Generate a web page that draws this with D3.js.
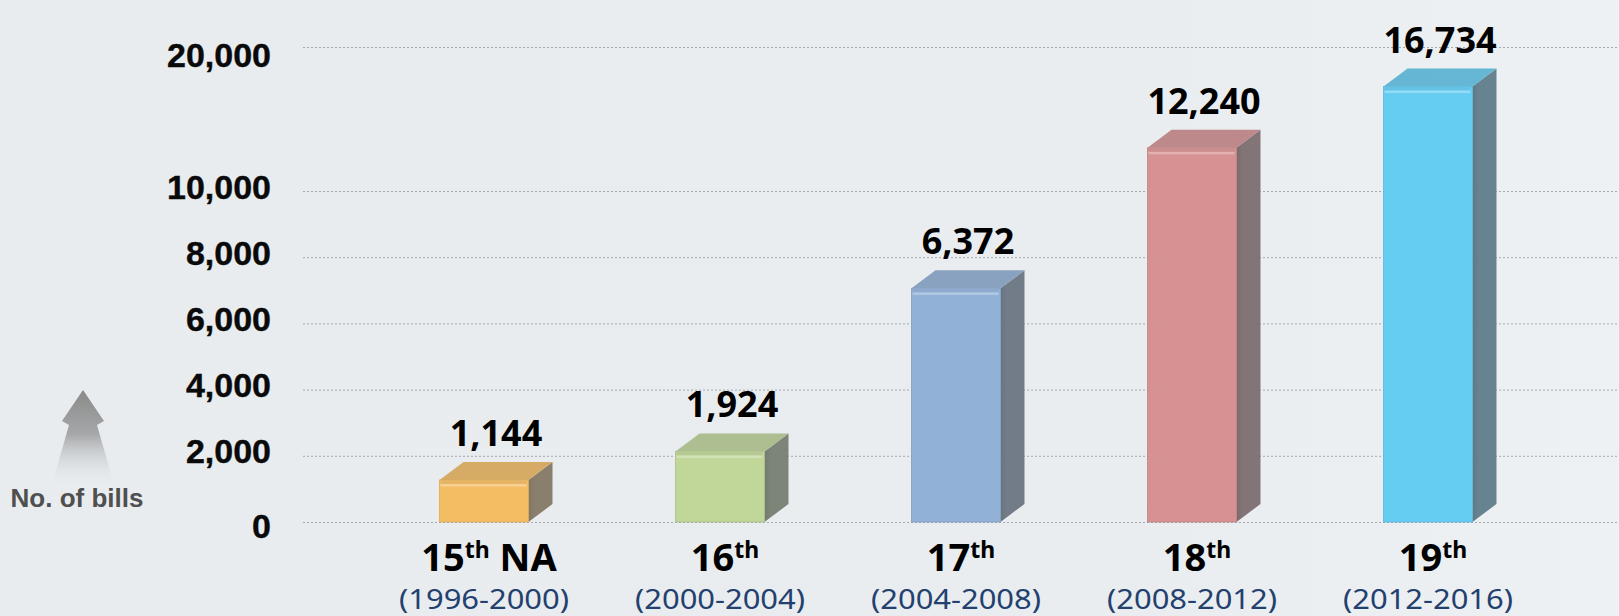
<!DOCTYPE html>
<html><head><meta charset="utf-8">
<script src="https://cdn.jsdelivr.net/npm/d3@7"></script>
<style>html,body{margin:0;padding:0;background:#e9edf0;overflow:hidden}</style>
</head><body><svg id="chart" width="1619" height="616"></svg>
<script>
// ---- data ----
const categories = ["15th NA", "16th", "17th", "18th", "19th"];
const periods = ["(1996-2000)", "(2000-2004)", "(2004-2008)", "(2008-2012)", "(2012-2016)"];
const values = [1144, 1924, 6372, 12240, 16734];
const yTicks = [0, 2000, 4000, 6000, 8000, 10000, 20000];
const barColors = ["#f5bb5c", "#bfd595", "#8eaed6", "#d68d8d", "#5ecbf3"];
const axisTitle = "No. of bills";

// ---- layout ----
const W = 1619, H = 616;
const DX = 24, DY = 18;           // 3D depth offset
const gridLeft = 303;
const svg = d3.select("#chart");
const defs = svg.append("defs");

// background
const bg = defs.append("linearGradient").attr("id", "bg").attr("x1", 0).attr("x2", 1).attr("y1", 0).attr("y2", 0);
bg.append("stop").attr("offset", "0%").attr("stop-color", "#e8ecef");
bg.append("stop").attr("offset", "70%").attr("stop-color", "#e9edf0");
bg.append("stop").attr("offset", "100%").attr("stop-color", "#eef1f3");
svg.append("rect").attr("width", W).attr("height", H).attr("fill", "url(#bg)");

// scales
const x = d3.scaleBand().domain(categories).range([366, 1546])
  .paddingInner(0.623).paddingOuter(0.3115).align(0.5);
const bw = x.bandwidth();
const yAxis = d3.scaleLinear().domain([0, 10000, 20000]).range([522, 191, 47]);   // gridlines
const yLabel = d3.scaleLinear().domain([0, 2000, 10000, 20000]).range([537, 462, 198, 66]); // tick label baselines
const yBar = d3.scaleLinear().domain([0, 9000, 20000]).range([522, 192, 42]);     // bar tops

// gridlines
const grid = svg.append("g").attr("transform", `translate(${gridLeft},0)`)
  .call(d3.axisRight(yAxis).tickValues(yTicks).tickSize(W - gridLeft).tickFormat(""));
grid.select(".domain").remove();
grid.selectAll(".tick line").attr("stroke", "#a7abaf").attr("stroke-width", 1).attr("stroke-dasharray", "2,2");

// tick labels
const yl = svg.append("g").attr("transform", "translate(271,0)")
  .call(d3.axisLeft(yLabel).tickValues(yTicks).tickFormat(d3.format(",")).tickSize(0).tickPadding(0));
yl.select(".domain").remove();
yl.selectAll(".tick line").remove();
yl.attr("font-family", "'Liberation Sans', Arial, sans-serif").attr("font-size", 34).attr("font-weight", "bold");
yl.selectAll(".tick text").attr("dy", "0").attr("fill", "#0a0a0a")
  .attr("stroke", "#0a0a0a").attr("stroke-width", 0.4);

// axis title arrow
const ag = defs.append("linearGradient").attr("id", "arrowGrad").attr("x1", 0).attr("x2", 0).attr("y1", 0).attr("y2", 1);
ag.append("stop").attr("offset", "0%").attr("stop-color", "#8a8a8a");
ag.append("stop").attr("offset", "45%").attr("stop-color", "#a6a7a9");
ag.append("stop").attr("offset", "100%").attr("stop-color", "#e9edf0").attr("stop-opacity", 0);
svg.append("path")
  .attr("d", "M83,390 L104,421 L97,425 L115,488 L51,488 L69,425 L62,421 Z")
  .attr("fill", "url(#arrowGrad)");
svg.append("text").attr("x", 77).attr("y", 507)
  .attr("text-anchor", "middle")
  .attr("font-family", "'Liberation Sans', Arial, sans-serif").attr("font-weight", "bold")
  .attr("font-size", 26).attr("fill", "#4f4f4f").text(axisTitle);

// bars
const sideGray = "#606468";
const bars = svg.append("g").selectAll("g.bar").data(values).join("g").attr("class", "bar").attr("opacity", 0.95);
bars.each(function (v, i) {
  const g = d3.select(this);
  const c = categories[i];
  const x0 = x(c), x1 = x0 + bw;
  const yt = yBar(v), yb = yBar(0);
  const front = barColors[i];
  const top = d3.interpolateRgb(front, sideGray)(0.22);
  const side = d3.interpolateRgb(front, sideGray)(0.75);
  const hi = d3.interpolateRgb(front, "#ffffff")(0.3);

  const sg = defs.append("linearGradient").attr("id", "side" + i).attr("x1", 0).attr("x2", 1).attr("y1", 0).attr("y2", 0);
  sg.append("stop").attr("offset", "0%").attr("stop-color", d3.color(side).darker(0.25));
  sg.append("stop").attr("offset", "25%").attr("stop-color", side);
  sg.append("stop").attr("offset", "100%").attr("stop-color", side);

  // side face
  g.append("path").attr("d", `M${x1},${yt} L${x1 + DX},${yt - DY} L${x1 + DX},${yb - DY} L${x1},${yb} Z`)
    .attr("fill", `url(#side${i})`);
  // top face
  g.append("path").attr("d", `M${x0},${yt} L${x0 + DX},${yt - DY} L${x1 + DX},${yt - DY} L${x1},${yt} Z`)
    .attr("fill", top);
  // front face
  g.append("rect").attr("x", x0).attr("y", yt).attr("width", bw).attr("height", yb - yt)
    .attr("fill", front).attr("stroke", d3.color(front).darker(0.35)).attr("stroke-width", 0.8);
  // bevel highlight
  g.append("rect").attr("x", x0 + 1).attr("y", yt).attr("width", bw - 3).attr("height", 4)
    .attr("fill", d3.interpolateRgb(front, top)(0.5));
  g.append("rect").attr("x", x0 + 1).attr("y", yt + 4).attr("width", bw - 3).attr("height", 2.5)
    .attr("fill", hi);
});

// value labels
svg.append("g").selectAll("text").data(values).join("text")
  .attr("x", (d, i) => x(categories[i]) + bw / 2 + DX / 2)
  .attr("y", d => yBar(d) - DY - 16)
  .attr("text-anchor", "middle")
  .attr("font-family", "'Noto Sans', 'Open Sans', sans-serif").attr("font-weight", "bold")
  .attr("font-size", 36).attr("fill", "#000")
  .text(d => d3.format(",")(d));

// category labels
const cl = svg.append("g").selectAll("text").data(categories).join("text")
  .attr("x", d => x(d) + bw / 2 + 5)
  .attr("y", 571)
  .attr("text-anchor", "middle")
  .attr("font-family", "'Noto Sans', 'Open Sans', sans-serif").attr("font-weight", "bold")
  .attr("fill", "#000");
cl.each(function (d) {
  const m = d.match(/^(\d+)(th)(.*)$/);
  const t = d3.select(this);
  t.append("tspan").attr("font-size", 38).text(m[1]);
  t.append("tspan").attr("font-size", 23).attr("dy", -13).text(m[2]);
  if (m[3]) t.append("tspan").attr("font-size", 38).attr("dy", 13).text("\u00a0" + m[3].trim());
});

// period labels
svg.append("g").selectAll("text").data(periods).join("text")
  .attr("x", (d, i) => x(categories[i]) + bw / 2)
  .attr("y", 609)
  .attr("text-anchor", "middle")
  .attr("font-family", "'Noto Sans', 'Open Sans', sans-serif")
  .attr("font-size", 28).attr("fill", "#23406e")
  .attr("textLength", 170).attr("lengthAdjust", "spacingAndGlyphs")
  .text(d => d);
</script>
</body></html>
